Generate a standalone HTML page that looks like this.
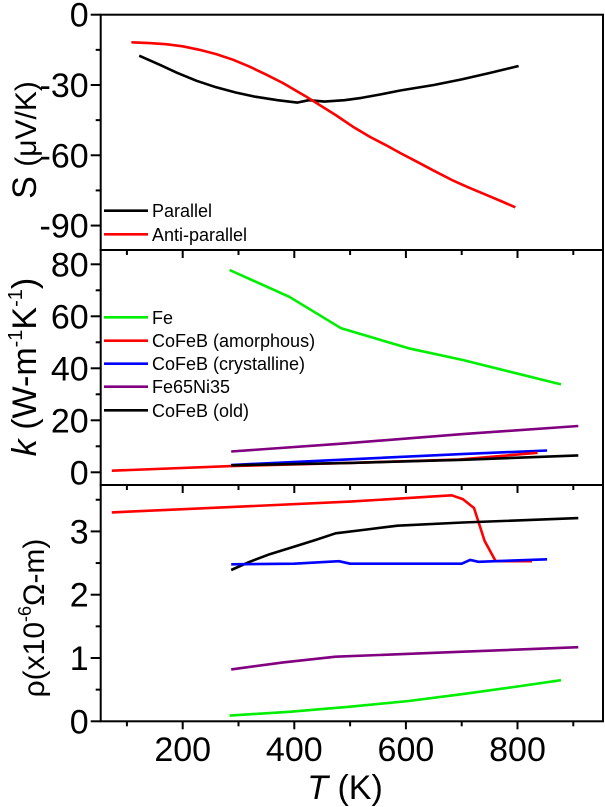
<!DOCTYPE html>
<html><head><meta charset="utf-8"><style>
html,body{margin:0;padding:0;background:#fff}
svg{display:block;font-family:"Liberation Sans",sans-serif}
</style></head><body>
<svg id="chart" width="605" height="807" viewBox="0 0 605 807" xmlns="http://www.w3.org/2000/svg"></svg>
<script>
// ---- data ----
const xTicks = [200, 400, 600, 800];
const xMinorTicks = [100, 300, 500, 700, 900];
const sTicks = [0, -30, -60, -90];
const kTicks = [0, 20, 40, 60, 80];
const rTicks = [0, 1, 2, 3];

const sParT = [122, 160, 190, 225, 260, 295, 330, 370, 405, 426, 454, 490, 520, 555, 591, 650, 700, 750, 802];
const sParV = [-17.5, -21.5, -24.8, -28.2, -31, -33.2, -35, -36.5, -37.5, -36.5, -37.1, -36.5, -35.5, -34, -32.3, -30, -27.6, -24.9, -21.9];
const sAntiT = [108, 140, 170, 200, 230, 260, 290, 320, 350, 380, 420, 474, 505, 536, 565, 591, 620, 650, 682, 710, 740, 770, 796];
const sAntiV = [-11.8, -12.1, -12.6, -13.5, -15, -16.8, -19.2, -22.2, -25.6, -29.2, -34.8, -42.8, -47.8, -52.2, -55.8, -59.2, -62.8, -66.6, -70.5, -73.5, -76.5, -79.5, -82.2];

const kFeT = [284, 391, 484, 605, 702, 878];
const kFeV = [77.8, 67.5, 55.4, 47.7, 43.2, 33.8];
const kAmT = [73, 287, 500, 695, 836];
const kAmV = [0.6, 2.4, 3.6, 4.9, 7.5];
const kCrT = [287, 500, 700, 853];
const kCrV = [2.8, 5.0, 7.0, 8.4];
const kNiT = [287, 484, 702, 909];
const kNiV = [8, 11, 14.7, 17.8];
const kOldT = [287, 500, 702, 909];
const kOldV = [2.7, 3.6, 4.8, 6.5];

const rAmT = [73, 300, 500, 682, 702, 722, 741, 761, 826];
const rAmV = [3.30, 3.39, 3.47, 3.57, 3.51, 3.37, 2.85, 2.53, 2.53];
const rOldT = [287, 320, 356, 400, 440, 474, 530, 585, 702, 909];
const rOldV = [2.39, 2.52, 2.64, 2.76, 2.87, 2.97, 3.03, 3.09, 3.14, 3.21];
const rCrT = [287, 400, 480, 500, 600, 700, 715, 730, 853];
const rCrV = [2.48, 2.49, 2.53, 2.49, 2.49, 2.49, 2.55, 2.52, 2.56];
const rNiT = [287, 380, 474, 702, 909];
const rNiV = [0.82, 0.93, 1.02, 1.10, 1.17];
const rFeT = [284, 391, 500, 605, 702, 800, 878];
const rFeV = [0.09, 0.15, 0.23, 0.32, 0.43, 0.55, 0.65];

// ---- scales ----
const L = 100.7, R = 603;
const xS = t => 182.7 + (t - 200) * 0.558;
const yS = v => 14.7 - v * 2.343;
const yK = v => 472.3 - v * 2.6;
const yR = v => 721.3 - v * 63.3;
const NS = 'http://www.w3.org/2000/svg';
const svg = document.getElementById('chart');
function mk(tag, attrs, parent) {
  const e = document.createElementNS(NS, tag);
  for (const k in attrs) e.setAttribute(k, attrs[k]);
  (parent || svg).appendChild(e);
  return e;
}
function series(T, V, ys, color, name) {
  const d = T.map((t, i) => (i ? 'L' : 'M') + xS(t).toFixed(1) + ' ' + ys(V[i]).toFixed(1)).join(' ');
  const p = mk('path', {d: d, fill: 'none', stroke: color, 'stroke-width': 2.6, 'stroke-linejoin': 'round'});
  
  
}
function panel(top, bot, ticks, minors, ys, name) {
  const r = mk('rect', {x: L, y: top, width: R - L, height: bot - top, fill: 'none', stroke: '#000', 'stroke-width': 2});
  
  
  ticks.forEach(v => {
    const y = ys(v);
    mk('line', {x1: L - 10, x2: L, y1: y, y2: y, stroke: '#000', 'stroke-width': 2});
    const t = mk('text', {x: L - 12, y: y + 12, 'text-anchor': 'end', 'font-size': 34});
    t.textContent = v;
    
    
  });
  minors.forEach(v => {
    const y = ys(v);
    mk('line', {x1: L - 5, x2: L, y1: y, y2: y, stroke: '#000', 'stroke-width': 2});
  });
  xTicks.forEach(t => mk('line', {x1: xS(t), x2: xS(t), y1: bot, y2: bot + 8, stroke: '#000', 'stroke-width': 2}));
  xMinorTicks.forEach(t => mk('line', {x1: xS(t), x2: xS(t), y1: bot, y2: bot + 5, stroke: '#000', 'stroke-width': 2}));
}
function legend(y, color, label, name) {
  mk('line', {x1: 104, x2: 148, y1: y, y2: y, stroke: color, 'stroke-width': 2.6});
  const t = mk('text', {x: 152, y: y + 6.5, 'font-size': 18});
  t.textContent = label;
  
  
}

// panels
panel(14.7, 250, sTicks, [-15, -45, -75], yS, 'seebeck-panel');
panel(250, 485, kTicks, [10, 30, 50, 70], yK, 'conductivity-panel');
panel(485, 721.3, rTicks, [0.5, 1.5, 2.5, 3.5], yR, 'resistivity-panel');

// x tick labels
xTicks.forEach(t => {
  const e = mk('text', {x: xS(t), y: 761, 'text-anchor': 'middle', 'font-size': 34});
  e.textContent = t;
  
  
});

// series
series(sParT, sParV, yS, '#000', 'parallel-line');
series(sAntiT, sAntiV, yS, '#ff0000', 'anti-parallel-line');
series(kNiT, kNiV, yK, '#800080', 'k-fe65ni35-line');
series(kCrT, kCrV, yK, '#0000ff', 'k-cofeb-crystalline-line');
series(kAmT, kAmV, yK, '#ff0000', 'k-cofeb-amorphous-line');
series(kOldT, kOldV, yK, '#000', 'k-cofeb-old-line');
series(kFeT, kFeV, yK, '#00ee00', 'k-fe-line');
series(rAmT, rAmV, yR, '#ff0000', 'rho-cofeb-amorphous-line');
series(rOldT, rOldV, yR, '#000', 'rho-cofeb-old-line');
series(rCrT, rCrV, yR, '#0000ff', 'rho-cofeb-crystalline-line');
series(rNiT, rNiV, yR, '#800080', 'rho-fe65ni35-line');
series(rFeT, rFeV, yR, '#00ee00', 'rho-fe-line');

// legends
legend(210.7, '#000', 'Parallel', 'legend-parallel');
legend(234.3, '#ff0000', 'Anti-parallel', 'legend-anti-parallel');
legend(317.3, '#00ee00', ' Fe', 'legend-fe');
legend(340.7, '#ff0000', 'CoFeB (amorphous)', 'legend-cofeb-amorphous');
legend(363.7, '#0000ff', 'CoFeB (crystalline)', 'legend-cofeb-crystalline');
legend(386.7, '#800080', 'Fe65Ni35', 'legend-fe65ni35');
legend(410.3, '#000', 'CoFeB (old)', 'legend-cofeb-old');
</script>
<svg style="position:absolute;left:0;top:0" width="605" height="807">
  <g font-family="Liberation Sans, sans-serif">
    <text transform="translate(36,140) rotate(-90)" text-anchor="middle" font-size="34">S <tspan font-size="30">(μV/K)</tspan></text>
    <text transform="translate(36,367) rotate(-90)" text-anchor="middle" font-size="34"><tspan font-style="italic">k</tspan> (W-m<tspan font-size="20" dy="-14">-1</tspan><tspan dy="14">K</tspan><tspan font-size="20" dy="-14">-1</tspan><tspan dy="14">)</tspan></text>
    <text transform="translate(44,618) rotate(-90)" text-anchor="middle" font-size="30">ρ(x10<tspan font-size="18" dy="-13">-6</tspan><tspan dy="13">Ω-m)</tspan></text>
    <text x="345" y="799" text-anchor="middle" font-size="34"><tspan font-style="italic">T</tspan> (K)</text>
  </g>
</svg>
</body></html>
